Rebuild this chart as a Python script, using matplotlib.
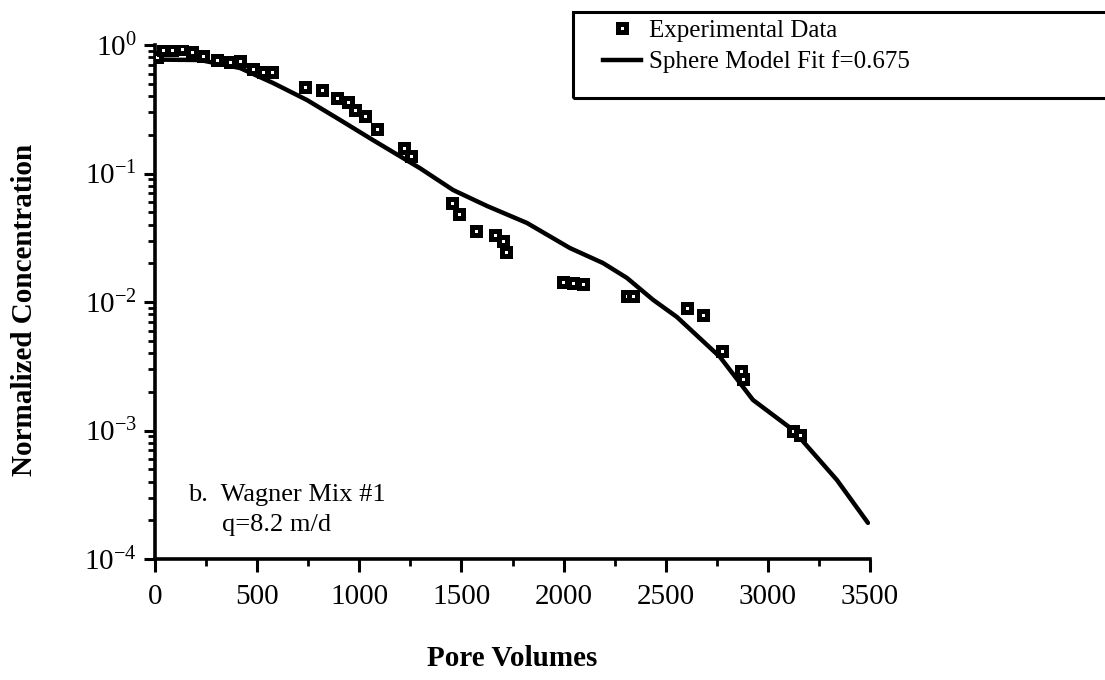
import matplotlib
matplotlib.use("Agg")
import matplotlib.pyplot as plt
from matplotlib.ticker import MultipleLocator, LogLocator, NullFormatter
from matplotlib.lines import Line2D
from matplotlib.patches import Rectangle

# Measured breakthrough data (pore volumes, normalized concentration)
exp_pv = [10, 39, 83, 132, 181, 235, 304, 367, 416, 480, 529, 573,
          734, 817, 891, 945, 979, 1028, 1087, 1219, 1253,
          1454, 1488, 1571, 1664, 1703, 1718,
          1997, 2046, 2095, 2310, 2338, 2605, 2683,
          2776, 2868, 2878, 3123, 3157]
exp_conc = [0.81, 0.91, 0.91, 0.93, 0.88, 0.82, 0.76, 0.74, 0.75, 0.65, 0.62, 0.62,
            0.47, 0.45, 0.39, 0.36, 0.31, 0.28, 0.22, 0.158, 0.137,
            0.059, 0.048, 0.036, 0.033, 0.030, 0.0245,
            0.0143, 0.0140, 0.0138, 0.0111, 0.0111, 0.0090, 0.0079,
            0.00416, 0.0029, 0.0025, 0.00099, 0.00093]

# Sphere diffusion model fit
fit_pv = [0, 220, 416, 578, 744, 906, 1067, 1297, 1459, 1625, 1821, 2031,
          2193, 2310, 2438, 2555, 2766, 2927, 3123, 3338, 3490]
fit_conc = [0.77, 0.764, 0.662, 0.506, 0.373, 0.261, 0.182, 0.110, 0.0744,
            0.0559, 0.0412, 0.0263, 0.0201, 0.0154, 0.0104, 0.00764,
            0.00373, 0.00173, 0.00101, 0.000412, 0.000191]

x_ticks = [0, 500, 1000, 1500, 2000, 2500, 3000, 3500]

plt.rcParams['font.family'] = ['Liberation Serif', 'DejaVu Serif']
plt.rcParams['mathtext.fontset'] = 'custom'
plt.rcParams['mathtext.rm'] = 'Liberation Serif'
plt.rcParams['mathtext.it'] = 'Liberation Serif:italic'
plt.rcParams['mathtext.bf'] = 'Liberation Serif:bold'
plt.rcParams['axes.unicode_minus'] = False

W, H = 1105, 680
fig = plt.figure(figsize=(W / 100, H / 100), dpi=100)
ax = fig.add_axes([155 / W, 1 - 559 / H, (870 - 155) / W, (559 - 45) / H])

marker_style = dict(ls='none', marker='s', ms=6.0, mfc='white',
                    mec='black', mew=3.6)

ax.plot(fit_pv, fit_conc, color='black', lw=3.2, solid_capstyle='round',
        label='Sphere Model Fit f=0.675', zorder=2)
ax.plot(exp_pv, exp_conc, label='Experimental Data', zorder=3, **marker_style)

ax.set_yscale('log')
ax.set_ylim(1e-4, 1)
ax.set_xlim(0, 3500)
ax.set_xticks(x_ticks)
ax.xaxis.set_minor_locator(MultipleLocator(250))
ax.yaxis.set_major_locator(LogLocator(base=10, numticks=10))
ax.yaxis.set_minor_locator(LogLocator(base=10, subs=range(2, 10), numticks=20))
ax.yaxis.set_minor_formatter(NullFormatter())

for s in ('top', 'right'):
    ax.spines[s].set_visible(False)
for s in ('left', 'bottom'):
    ax.spines[s].set_linewidth(2.6)

ax.tick_params(axis='x', which='major', direction='out', length=9, width=2.2,
               labelsize=21, pad=9)
ax.tick_params(axis='x', which='minor', direction='out', length=5, width=2)
ax.tick_params(axis='y', which='major', direction='out', length=8, width=2.2,
               labelsize=21, pad=5)
ax.tick_params(axis='y', which='minor', direction='out', length=5, width=2)

ax.set_xlabel('Pore Volumes', fontsize=21, fontweight='bold')
ax.set_ylabel('Normalized Concentration', fontsize=21, fontweight='bold')
ax.xaxis.set_label_coords((512 - 155) / 715, (559 - 659) / 514)
ax.yaxis.set_label_coords((25 - 155) / 715, (559 - 310) / 514)
ax.xaxis.label.set_va('center')
ax.yaxis.label.set_va('center')

ax.text((188 - 155) / 715, (559 - 495) / 514, 'b.  Wagner Mix #1',
        transform=ax.transAxes, fontsize=19, ha='left', va='center')
ax.text((222 - 155) / 715, (559 - 525) / 514, 'q=8.2 m/d',
        transform=ax.transAxes, fontsize=19, ha='left', va='center')

# Legend box running off the right edge of the page
fig.patches.append(Rectangle((573 / W, 1 - 98 / H), 0.6, 86 / H,
                             transform=fig.transFigure, fill=False,
                             edgecolor='black', lw=2.2, zorder=5))
handles = [Line2D([], [], **marker_style),
           Line2D([], [], color='black', lw=3.2)]
labels = ['Experimental Data', 'Sphere Model Fit f=0.675']
fig.legend(handles, labels, loc='upper left',
           bbox_to_anchor=(603 / W, 1 - 19 / H), bbox_transform=fig.transFigure,
           frameon=False, fontsize=18, borderpad=0, borderaxespad=0,
           handlelength=1.5, handletextpad=0.35, labelspacing=0.36)

fig.savefig('out.png', dpi=100)
